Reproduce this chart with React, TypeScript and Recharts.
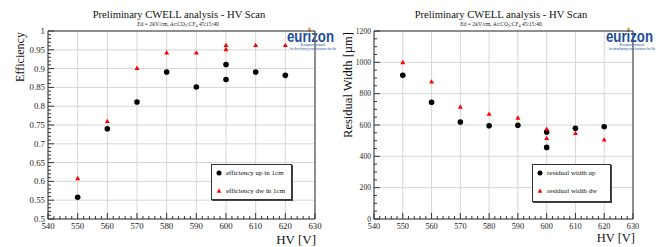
import React from 'react';
import { ScatterChart, Scatter, XAxis, YAxis, CartesianGrid, Legend } from 'recharts';

// ---------- data ----------
const hvValues = [550, 560, 570, 580, 590, 600, 600, 610, 620];
const efficiencyUp = [0.558, 0.74, 0.811, 0.891, 0.851, 0.911, 0.871, 0.891, 0.882];
const efficiencyDw = [0.608, 0.76, 0.901, 0.942, 0.942, 0.962, 0.951, 0.962, 0.962];
const residualUp = [917, 745, 619, 595, 598, 555, 457, 579, 589];
const residualDw = [1000, 876, 715, 670, 645, 574, 515, 547, 506];

const hvMajorTicks = [540, 550, 560, 570, 580, 590, 600, 610, 620, 630];
const effMajorTicks = [0.5, 0.55, 0.6, 0.65, 0.7, 0.75, 0.8, 0.85, 0.9, 0.95, 1];
const resMajorTicks = [0, 200, 400, 600, 800, 1000, 1200];

const effLegendNames = ['efficiency up in 1cm', 'efficiency dw in 1cm'];
const resLegendNames = ['residual width up', 'residual width dw'];
const chartTitle = 'Preliminary CWELL analysis - HV Scan';
const effAxisTitle = 'Efficiency';
const resAxisTitle = 'Residual Width [\u00b5m]';
const hvAxisTitle = 'HV [V]';
const logoWord = 'eurizon';
const logoLine1 = 'European network';
const logoLine2 = 'for developing new horizons for life';

// ---------- helpers ----------
const withMinor = (majors: number[], sub: number) => {
  const out: number[] = [];
  for (let i = 0; i < majors.length - 1; i++) {
    const a = majors[i];
    const b = majors[i + 1];
    for (let k = 0; k < sub; k++) out.push(+(a + ((b - a) * k) / sub).toFixed(6));
  }
  out.push(majors[majors.length - 1]);
  return out;
};
const isMajor = (v: number, majors: number[]) => majors.some((m) => Math.abs(m - v) < 1e-6);

const effUpData = hvValues.map((x, i) => ({ x, y: efficiencyUp[i] }));
const effDwData = hvValues.map((x, i) => ({ x, y: efficiencyDw[i] }));
const resUpData = hvValues.map((x, i) => ({ x, y: residualUp[i] }));
const resDwData = hvValues.map((x, i) => ({ x, y: residualDw[i] }));

const FONT = '"Liberation Serif", "DejaVu Serif", serif';
const AXIS = '#333';
const GRID = '#d6d6d6';

const CircleMark = (p: any) => <circle cx={p.cx} cy={p.cy} r={2.8} fill="#000" />;
const TriMark = (p: any) => (
  <polygon
    points={`${p.cx},${p.cy - 2.6} ${p.cx - 2.5},${p.cy + 1.8} ${p.cx + 2.5},${p.cy + 1.8}`}
    fill="#ff0000"
  />
);

const makeXTick = (fontSize: number) => (props: any) => {
  const { x, y, payload } = props;
  const major = isMajor(payload.value, hvMajorTicks);
  return (
    <g>
      <line x1={x} x2={x} y1={y} y2={y - (major ? 6 : 3)} stroke={AXIS} strokeWidth={1} />
      {major && (
        <text x={x} y={y + 10} textAnchor="middle" fontSize={fontSize} fontFamily={FONT} fill="#222">
          {payload.value}
        </text>
      )}
    </g>
  );
};

const makeYTick = (majors: number[], fontSize: number, minorLen: number) => (props: any) => {
  const { x, y, payload } = props;
  const major = isMajor(payload.value, majors);
  return (
    <g>
      <line x1={x} x2={x + (major ? 6 : minorLen)} y1={y} y2={y} stroke={AXIS} strokeWidth={1} />
      {major && (
        <text x={x - 3} y={y + fontSize * 0.35} textAnchor="end" fontSize={fontSize} fontFamily={FONT} fill="#222">
          {payload.value}
        </text>
      )}
    </g>
  );
};

const LegendBox = ({ names, fontSize }: { names: string[]; fontSize: number }) => (
  <div
    style={{
      width: '100%',
      height: '100%',
      boxSizing: 'border-box',
      border: '1px solid #333',
      boxShadow: '1px 1px 0 #444',
      background: '#fff',
      position: 'relative',
      fontFamily: FONT,
      fontSize,
      color: '#111',
    }}
  >
    {names.map((n, i) => (
      <div key={n} style={{ position: 'absolute', left: 3, top: i === 0 ? 4 : 22, display: 'flex', alignItems: 'center', whiteSpace: 'nowrap', lineHeight: '8px' }}>
        <svg width={8} height={8} style={{ marginRight: 3 }}>
          {i === 0 ? (
            <circle cx={4} cy={4} r={2.5} fill="#000" />
          ) : (
            <polygon points="4,1.6 1.6,5.8 6.4,5.8" fill="#ff0000" />
          )}
        </svg>
        <span>{n}</span>
      </div>
    ))}
  </div>
);

const Subtitle = ({ x, y }: { x: number; y: number }) => (
  <text x={x} y={y} textAnchor="middle" fontSize={5.6} fontFamily={FONT} fill="#222">
    Ed = 2kV/cm, Ar:CO
    <tspan dy={1.2} fontSize={4}>2</tspan>
    <tspan dy={-1.2}>:CF</tspan>
    <tspan dy={1.2} fontSize={4}>4</tspan>
    <tspan dy={-1.2}> 45:15:40</tspan>
  </text>
);

const Logo = ({ x, y }: { x: number; y: number }) => (
  <g>
    <text
      x={x}
      y={y}
      fontSize={17}
      fontWeight="bold"
      fontFamily='"Liberation Sans", Arial, sans-serif'
      fill="#1d4b9e"
      textLength={47}
      lengthAdjust="spacingAndGlyphs"
    >
      {logoWord}
    </text>
    <circle cx={x + 22.5} cy={y - 13} r={1.4} fill="#f39a1e" />
    <text x={x + 26} y={y + 4} textAnchor="middle" fontSize={3} fontFamily='"Liberation Sans", sans-serif' fill="#1d4b9e">
      {logoLine1}
    </text>
    <text x={x + 26} y={y + 8} textAnchor="middle" fontSize={3} fontFamily='"Liberation Sans", sans-serif' fill="#1d4b9e">
      {logoLine2}
    </text>
  </g>
);

export default function App() {
  const hvTicks = withMinor(hvMajorTicks, 5);
  const effTicks = withMinor(effMajorTicks, 5);
  const resTicks = withMinor(resMajorTicks, 4);

  return (
    <div style={{ position: 'absolute', left: 0, top: 0, width: 660, height: 247, background: '#fff', overflow: 'hidden' }}>
      {/* Left overlay texts (below right chart) */}
      <svg width={336} height={247} style={{ position: 'absolute', left: 0, top: 0 }}>
        <text x={179} y={18} textAnchor="middle" fontSize={10.6} fontFamily={FONT} fill="#111">
          {chartTitle}
        </text>
        <Subtitle x={178} y={26} />
        <text
          transform="translate(24,57) rotate(-90)"
          textAnchor="middle"
          fontSize={12}
          fontFamily={FONT}
          fill="#111"
        >
          {effAxisTitle}
        </text>
        <text x={316} y={244} textAnchor="end" fontSize={13} fontFamily={FONT} fill="#111">
          {hvAxisTitle}
        </text>
        <Logo x={287} y={42} />
      </svg>

      {/* Left chart */}
      <div style={{ position: 'absolute', left: 0, top: 0 }}>
        <ScatterChart width={330} height={247} margin={{ top: 30, right: 14, bottom: 8, left: 8 }}>
          <CartesianGrid stroke={GRID} verticalValues={hvMajorTicks} horizontalValues={effMajorTicks} />
          <XAxis
            type="number"
            dataKey="x"
            domain={[540, 630]}
            ticks={hvTicks}
            interval={0}
            height={20}
            tickSize={0}
            tickMargin={0}
            tick={makeXTick(8.8)}
            axisLine={{ stroke: AXIS }}
            tickLine={false}
          />
          <XAxis xAxisId="top" orientation="top" type="number" domain={[540, 630]} height={1} tick={false} tickLine={false} axisLine={{ stroke: AXIS }} />
          <YAxis
            type="number"
            dataKey="y"
            domain={[0.5, 1]}
            ticks={effTicks}
            interval={0}
            width={40}
            tickSize={0}
            tickMargin={0}
            tick={makeYTick(effMajorTicks, 8.8, 3)}
            axisLine={{ stroke: AXIS }}
            tickLine={false}
          />
          <YAxis yAxisId="right" orientation="right" type="number" domain={[0.5, 1]} width={1} tick={false} tickLine={false} axisLine={{ stroke: AXIS }} />
          <Legend
            layout="horizontal"
            verticalAlign="middle"
            align="center"
            wrapperStyle={{ position: 'absolute', left: 211, top: 164, width: 81, height: 36 }}
            content={() => <LegendBox names={effLegendNames} fontSize={7} />}
          />
          <Scatter name={effLegendNames[0]} data={effUpData} shape={CircleMark} isAnimationActive={false} />
          <Scatter name={effLegendNames[1]} data={effDwData} shape={TriMark} isAnimationActive={false} />
        </ScatterChart>
      </div>

      {/* Right chart */}
      <div style={{ position: 'absolute', left: 330, top: 0 }}>
        <ScatterChart width={330} height={247} margin={{ top: 30, right: 26, bottom: 8, left: 4 }}>
          <CartesianGrid stroke={GRID} verticalValues={hvMajorTicks} horizontalValues={resMajorTicks} />
          <XAxis
            type="number"
            dataKey="x"
            domain={[540, 630]}
            ticks={hvTicks}
            interval={0}
            height={20}
            tickSize={0}
            tickMargin={0}
            tick={makeXTick(8.2)}
            axisLine={{ stroke: AXIS }}
            tickLine={false}
          />
          <XAxis xAxisId="top" orientation="top" type="number" domain={[540, 630]} height={1} tick={false} tickLine={false} axisLine={{ stroke: AXIS }} />
          <YAxis
            type="number"
            dataKey="y"
            domain={[0, 1200]}
            ticks={resTicks}
            interval={0}
            width={40}
            tickSize={0}
            tickMargin={0}
            tick={makeYTick(resMajorTicks, 7.6, 3)}
            axisLine={{ stroke: AXIS }}
            tickLine={false}
          />
          <YAxis yAxisId="right" orientation="right" type="number" domain={[0, 1200]} width={1} tick={false} tickLine={false} axisLine={{ stroke: AXIS }} />
          <Legend
            layout="horizontal"
            verticalAlign="middle"
            align="center"
            wrapperStyle={{ position: 'absolute', left: 202, top: 164, width: 79, height: 38 }}
            content={() => <LegendBox names={resLegendNames} fontSize={7} />}
          />
          <Scatter name={resLegendNames[0]} data={resUpData} shape={CircleMark} isAnimationActive={false} />
          <Scatter name={resLegendNames[1]} data={resDwData} shape={TriMark} isAnimationActive={false} />
        </ScatterChart>
        <svg width={330} height={247} style={{ position: 'absolute', left: 0, top: 0, pointerEvents: 'none' }}>
          <text x={171} y={18} textAnchor="middle" fontSize={10.6} fontFamily={FONT} fill="#111">
            {chartTitle}
          </text>
          <Subtitle x={171} y={26} />
          <text
            transform="translate(22,85) rotate(-90)"
            textAnchor="middle"
            fontSize={12.5}
            fontFamily={FONT}
            fill="#111"
          >
            {resAxisTitle}
          </text>
          <text x={305} y={242} textAnchor="end" fontSize={12.5} fontFamily={FONT} fill="#111">
            {hvAxisTitle}
          </text>
          <Logo x={276} y={42} />
        </svg>
      </div>
    </div>
  );
}
